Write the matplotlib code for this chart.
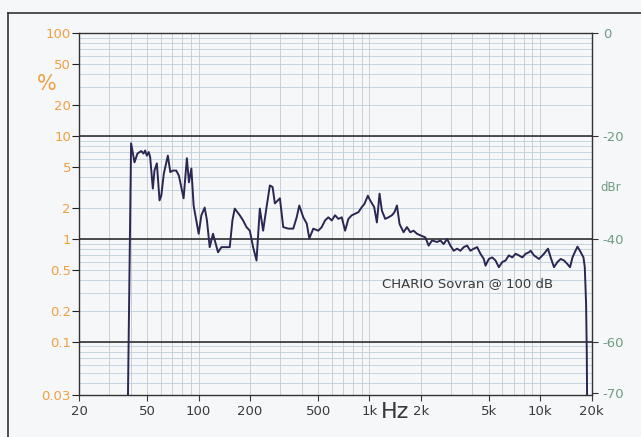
import numpy as np
import matplotlib
matplotlib.use("Agg")
import matplotlib.pyplot as plt
from matplotlib.ticker import FixedLocator, NullFormatter

# distortion trace: frequency (Hz) and level (dBr, right axis)
freq = [38.4, 40.2, 42.1, 43.8, 46.1, 47.5, 48.6, 49.7, 51.0, 52.0, 53.9, 55.1, 56.9,
        59.0, 60.4, 62.5, 66.0, 68.2, 70.6, 73.9, 76.6, 81.6, 85.3, 87.7, 90.6, 93.4,
        96.9, 100.0, 103.7, 108.4, 111.8, 116.0, 121.3, 125.8, 129.8, 135.9, 145.3,
        152.0, 157.6, 162.6, 174.0, 181.9, 190.5, 199.2, 208.3, 218.1, 228.0, 238.4,
        249.7, 261.1, 270.8, 279.3, 298.9, 312.6, 334.5, 357.9, 374.8, 388.1, 409.7,
        429.0, 444.4, 468.8, 501.6, 525.3, 549.3, 574.1, 601.2, 628.7, 657.4, 688.3,
        719.7, 752.6, 787.9, 823.8, 861.4, 902.0, 934.3, 978.2, 1009, 1065, 1105, 1145,
        1182, 1236, 1292, 1353, 1401, 1448, 1500, 1583, 1657, 1733, 1812, 1897, 1984,
        2122, 2220, 2324, 2487, 2600, 2718, 2846, 2976, 3112, 3258, 3406, 3562, 3729,
        3900, 4078, 4270, 4465, 4669, 4778, 4996, 5230, 5469, 5719, 5988, 6261, 6546,
        6854, 7167, 7494, 7847, 8204, 8580, 8778, 9180, 9821, 10508, 11092, 11504,
        12030, 12596, 13171, 13771, 14420, 14936, 15430, 15918, 16508, 17260, 17898,
        18218, 18540, 18716, 18830]
level_db = [-75, -21.4, -25.1, -23.4, -22.9, -23.4, -22.8, -23.8, -23.1, -24.1, -30.2,
            -26.7, -25.3, -32.5, -31.6, -27.3, -23.8, -27.0, -26.7, -26.7, -27.7, -32.1,
            -24.3, -29.0, -26.3, -33.5, -36.4, -39.0, -35.4, -33.9, -36.4, -41.6, -39.0,
            -40.9, -42.6, -41.6, -41.6, -41.6, -36.4, -34.1, -35.4, -36.4, -37.7, -38.4,
            -41.6, -44.2, -34.1, -38.4, -33.8, -29.6, -29.9, -33.1, -32.1, -37.7, -38.0,
            -38.0, -35.8, -33.5, -35.8, -37.0, -39.9, -38.0, -38.4, -37.7, -36.4, -35.8,
            -36.4, -35.4, -36.1, -35.8, -38.4, -36.1, -35.4, -35.1, -34.8, -33.8, -33.2,
            -31.6, -32.5, -33.8, -36.8, -31.2, -34.5, -36.1, -35.8, -35.4, -34.8, -33.5,
            -37.1, -38.7, -37.7, -38.7, -38.4, -39.0, -39.3, -39.7, -41.3, -40.3, -40.6,
            -40.3, -41.0, -40.0, -41.3, -42.3, -41.9, -42.3, -41.6, -41.3, -42.3, -41.9,
            -41.6, -42.9, -43.9, -45.2, -43.9, -43.6, -44.2, -45.5, -44.5, -44.2, -43.2,
            -43.6, -42.9, -43.2, -43.6, -42.9, -42.6, -42.3, -43.2, -43.9, -42.9, -41.9,
            -43.6, -45.5, -44.5, -43.9, -44.2, -44.9, -45.5, -43.6, -42.6, -41.5, -42.6,
            -43.6, -45.5, -52.6, -62.3, -75]

pct_ticks = [100, 50, 20, 10, 5, 2, 1, 0.5, 0.2, 0.1, 0.03]
pct_labels = ["100", "50", "20", "10", "5", "2", "1", "0.5", "0.2", "0.1", "0.03"]
db_ticks = [0, -20, -40, -60, -70]
hz_ticks = [20, 50, 100, 200, 500, 1000, 2000, 5000, 10000, 20000]
hz_labels = ["20", "50", "100", "200", "500", "1k", "2k", "5k", "10k", "20k"]
caption = "CHARIO Sovran @ 100 dB"

orange = "#f0a040"
green = "#6f9c82"
ink = "#3a3a3a"
bg = "#f6f7f9"

pct = 100 * 10 ** (np.array(level_db) / 20.0)

fig = plt.figure(figsize=(6.41, 4.37), dpi=100, facecolor=bg)
ax = fig.add_axes([0.1237, 0.095, 0.7994, 0.8288])
ax.set_facecolor(bg)

ax.set_xscale("log")
ax.set_yscale("log")
ax.set_xlim(20, 20000)
ax.set_ylim(0.03, 100)

# grid: every 1..9 of each decade, heavy lines on the decades
xminor = [m * 10 ** e for e in range(1, 5) for m in range(1, 10) if 20 <= m * 10 ** e <= 20000]
yminor = [m * 10 ** e for e in range(-2, 2) for m in range(1, 10) if 0.03 <= m * 10 ** e <= 100]
for xv in xminor:
    ax.axvline(xv, color="#c3c9ce", lw=0.6, zorder=1)
for yv in yminor:
    ax.axhline(yv, color="#bcd0dc", lw=0.6, zorder=1)
for yv in [10, 1, 0.1]:
    ax.axhline(yv, color="#222222", lw=1.1, zorder=2)

ax.plot(freq, pct, color="#2b2652", lw=1.4, zorder=3)

ax.xaxis.set_major_locator(FixedLocator(hz_ticks))
ax.set_xticklabels(hz_labels)
ax.xaxis.set_minor_formatter(NullFormatter())
ax.tick_params(axis="x", which="minor", length=0)
ax.tick_params(axis="x", which="major", direction="out", length=4, width=0.8,
               colors=ink, labelsize=9.5, pad=3)

ax.yaxis.set_major_locator(FixedLocator(pct_ticks))
ax.set_yticklabels(pct_labels)
ax.yaxis.set_minor_formatter(NullFormatter())
ax.tick_params(axis="y", which="minor", length=0)
ax.tick_params(axis="y", which="major", direction="out", length=5, width=0.8,
               color="#222222", labelcolor=orange, labelsize=9.5, pad=1)

for s in ax.spines.values():
    s.set_color("#333333")
    s.set_linewidth(1.0)

ax2 = ax.twinx()
ax2.set_ylim(20 * np.log10(0.03 / 100), 0)
ax2.set_yticks(db_ticks)
ax2.set_yticklabels([str(d) for d in db_ticks])
ax2.tick_params(axis="y", direction="out", length=4, width=0.8, color="#333333",
                labelcolor=green, labelsize=9.5, pad=4)
for s in ax2.spines.values():
    s.set_visible(False)

fig.text(0.073, 0.808, "%", color=orange, fontsize=15, ha="center", va="center")
fig.text(0.952, 0.572, "dBr", color=green, fontsize=8.5, ha="center", va="center")
fig.text(0.617, 0.057, "Hz", color=ink, fontsize=16, ha="center", va="center")
ax.text(0.59, 0.31, caption, transform=ax.transAxes, color=ink, fontsize=9.5,
        ha="left", va="center", zorder=4)

# page border
fig.add_artist(plt.Line2D([0.013, 0.013], [0, 0.970], color="#333333", lw=1.2))
fig.add_artist(plt.Line2D([0.013, 1.0], [0.970, 0.970], color="#333333", lw=1.2))

fig.savefig("out.png", dpi=100, facecolor=bg)
